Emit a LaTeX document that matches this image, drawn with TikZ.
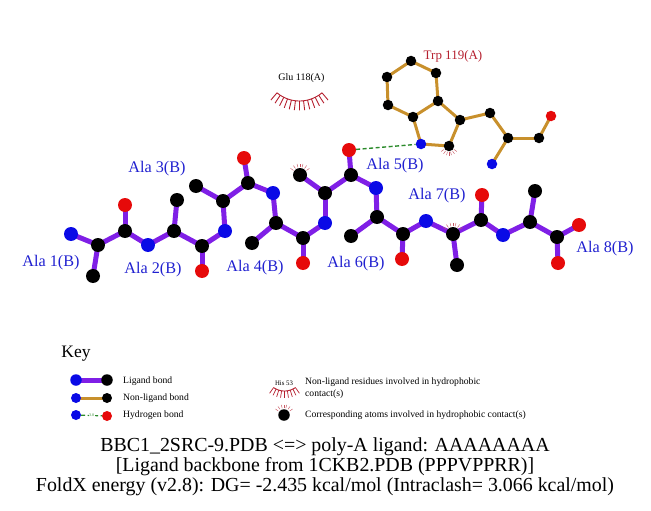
\documentclass[tikz,border=0pt]{standalone}
\usepackage{fontspec}
\setmainfont{Liberation Serif}
\usetikzlibrary{backgrounds}

\definecolor{ligcol}{HTML}{7F1FE6}
\definecolor{nonligcol}{HTML}{C8902C}
\definecolor{hbcol}{HTML}{2A8A2A}
\definecolor{lashcol}{HTML}{B5202F}
\definecolor{atomblue}{HTML}{0A0AE6}
\definecolor{atomred}{HTML}{E60A0A}
\definecolor{labblue}{HTML}{2020D0}

\tikzset{
    atom/.style={circle,draw=none,inner sep=0pt,minimum size=14pt},
    small/.style={minimum size=10.5pt},
    legatom/.style={minimum size=11.5pt},
    ligbond/.style={draw=ligcol,line width=5pt},
    nonbond/.style={draw=nonligcol,line width=3pt},
    hbond/.style={draw=hbcol,line width=1.4pt,dash pattern=on 4pt off 2.5pt},
    lash/.style={draw=lashcol,line width=.9pt},
    spark/.style={draw=lashcol!75,line width=.45pt},
    reslab/.style={font=\fontsize{16.2}{18}\selectfont,text=labblue,inner sep=0pt},
    legtext/.style={font=\fontsize{9.65}{11.5}\selectfont,anchor=west,inner sep=0pt,align=left},
    title/.style={font=\fontsize{19.9}{22}\selectfont,inner sep=0pt}
}

\begin{document}
\begin{tikzpicture}[x=1pt,y=-1pt]
    \useasboundingbox (0,0) rectangle (651,511);

    % ligand atoms
    \foreach \n/\x/\y in {ca1/98/245,cb1/93/276,c1/125/231,ca2/174/231,cb2/177/200,c2/202/246,ca3/223/201,cb3/196/186,c3/248/183,
                          ca4/276/223,cb4/252/243,c4/303/238,ca5/325/193,cb5/300/175,c5/351/175,ca6/377/217,cb6/351/236,c6/403/234,
                          ca7/453/234,cb7/457/265,c7/481/220,ca8/530/222,cb8/535/191,c8/557/237}
        \node (\n) [atom,fill=black] at (\x,\y) {};
    \foreach \n/\x/\y in {n1/71/234,n2/148/245,n3/225/231,n4/273/193,n5/325/223,n6/376/188,n7/426/221,n8/503/235}
        \node (\n) [atom,fill=atomblue] at (\x,\y) {};
    \foreach \n/\x/\y in {o1/125/205,o2/202/271,o3/244/158,o4/303/263,o5/349/150,o6/402/259,o7/482/195,o8/579/225,oe/558/263}
        \node (\n) [atom,fill=atomred] at (\x,\y) {};

    % Trp atoms
    \foreach \n/\x/\y in {t1/411/61,t2/436/73,t3/387/77,t4/388/105,t5/438/101,t6/413/117,t7/460/120,t8/449/146,t9/490/113,t10/508/138,t11/539/138}
        \node (\n) [atom,small,fill=black] at (\x,\y) {};
    \node (tn)  [atom,small,fill=atomblue] at (421,144) {};
    \node (tn2) [atom,small,fill=atomblue] at (492,164) {};
    \node (to)  [atom,small,fill=atomred]  at (551,116) {};

    % key atoms
    \node (ka) [atom,legatom,fill=atomblue] at (76,380) {};
    \node (kb) [atom,legatom,fill=black]    at (107,380) {};
    \node (kc) [atom,legatom,minimum size=10pt,fill=atomblue] at (76,398) {};
    \node (kd) [atom,legatom,minimum size=10pt,fill=black]    at (107,398) {};
    \node (ke) [atom,legatom,minimum size=10pt,fill=atomblue] at (76,415) {};
    \node (kf) [atom,legatom,minimum size=10pt,fill=atomred]  at (107,416) {};
    \node (kg) [atom,legatom,fill=black] at (284,415) {};

    \begin{scope}[on background layer]
        \foreach \a/\b in {n1/ca1,ca1/cb1,ca1/c1,c1/o1,c1/n2,n2/ca2,ca2/cb2,ca2/c2,c2/o2,c2/n3,n3/ca3,ca3/cb3,ca3/c3,c3/o3,c3/n4,n4/ca4,
                           ca4/cb4,ca4/c4,c4/o4,c4/n5,n5/ca5,ca5/cb5,ca5/c5,c5/o5,c5/n6,n6/ca6,ca6/cb6,ca6/c6,c6/o6,c6/n7,n7/ca7,ca7/cb7,
                           ca7/c7,c7/o7,c7/n8,n8/ca8,ca8/cb8,ca8/c8,c8/o8,c8/oe,ka/kb}
            \draw[ligbond] (\a.center) -- (\b.center);
        \foreach \a/\b in {t1/t2,t1/t3,t3/t4,t4/t6,t2/t5,t5/t6,t5/t7,t6/tn,tn/t8,t8/t7,t7/t9,t9/t10,t10/t11,t11/to,t10/tn2,kc/kd}
            \draw[nonbond] (\a.center) -- (\b.center);
    \end{scope}

    \draw[hbond] (o5) -- (tn);
    \draw[hbond,line width=1.2pt] (ke) -- node (kh) [fill=white,inner sep=.5pt,text=hbcol,font=\fontsize{4}{4}\selectfont] {3.0} (kf);

    % hydrophobic contacts
    \foreach \ang in {215,235,255,270,285,305,325} {
        \draw[spark] (cb5.center) ++(\ang:8) -- ++(\ang:3.5);
        \draw[spark] (ca7.center) ++(\ang:8) -- ++(\ang:3.5);
        \draw[spark] (kg.center) ++(\ang:7) -- ++(\ang:3.5);
    }
    \foreach \ang in {35,55,75,90,105,125,145}
        \draw[spark] (t8.center) ++(\ang:6) -- ++(\ang:3.5);

    \coordinate (glu) at (299.5,66);
    \draw[lash] plot[domain=50:130,samples=25,smooth] ({299.5+35*cos(\x)},{66+35*sin(\x)});
    \foreach \ang in {50,56.67,...,130.1}
        \draw[lash] (glu) ++(\ang:35) -- ++(\ang:9.5);
    \coordinate (his) at (284.5,372);
    \draw[lash] plot[domain=55:125,samples=25,smooth] ({284.5+19*cos(\x)},{372+19*sin(\x)});
    \foreach \ang in {55,63.75,...,125.1}
        \draw[lash,line width=.7pt] (his) ++(\ang:19) -- ++(\ang:7);

    % labels
    \node (l1) [reslab] at (51,262.5)  {Ala 1(B)};
    \node (l2) [reslab] at (153,269.5) {Ala 2(B)};
    \node (l3) [reslab] at (157,168.5) {Ala 3(B)};
    \node (l4) [reslab] at (255,267.5) {Ala 4(B)};
    \node (l5) [reslab] at (395,165.5) {Ala 5(B)};
    \node (l6) [reslab] at (356,263.5) {Ala 6(B)};
    \node (l7) [reslab] at (437,195.5) {Ala 7(B)};
    \node (l8) [reslab] at (605,248.5) {Ala 8(B)};
    \node (trp) [inner sep=0pt,text=lashcol,font=\fontsize{13}{15}\selectfont] at (453,56) {Trp 119(A)};
    \node (gl)  [inner sep=0pt,font=\fontsize{10}{12}\selectfont] at (301.5,78.5) {Glu 118(A)};

    % key
    \node (key) [inner sep=0pt,font=\fontsize{17.5}{20}\selectfont] at (76,353.5) {Key};
    \node (k1) [legtext] at (123,381) {Ligand bond};
    \node (k2) [legtext] at (123,398.5) {Non-ligand bond};
    \node (k3) [legtext] at (123,415.5) {Hydrogen bond};
    \node (his53) [inner sep=0pt,font=\fontsize{6.8}{7}\selectfont] at (284,383) {His 53};
    \node (k4) [legtext] at (305,382.5) {Non-ligand residues involved in hydrophobic};
    \node (k5) [legtext] at (305,394) {contact(s)};
    \node (k6) [legtext] at (305,415.5) {Corresponding atoms involved in hydrophobic contact(s)};

    % title
    \node (tt1) [title] at (325,447) {BBC1\_2SRC-9.PDB <=> poly-A ligand: AAAAAAAA};
    \node (tt2) [title] at (325,467) {[Ligand backbone from 1CKB2.PDB (PPPVPPRR)]};
    \node (tt3) [title] at (325,487) {FoldX energy (v2.8): DG= -2.435 kcal/mol (Intraclash= 3.066 kcal/mol)};
\end{tikzpicture}
\end{document}
